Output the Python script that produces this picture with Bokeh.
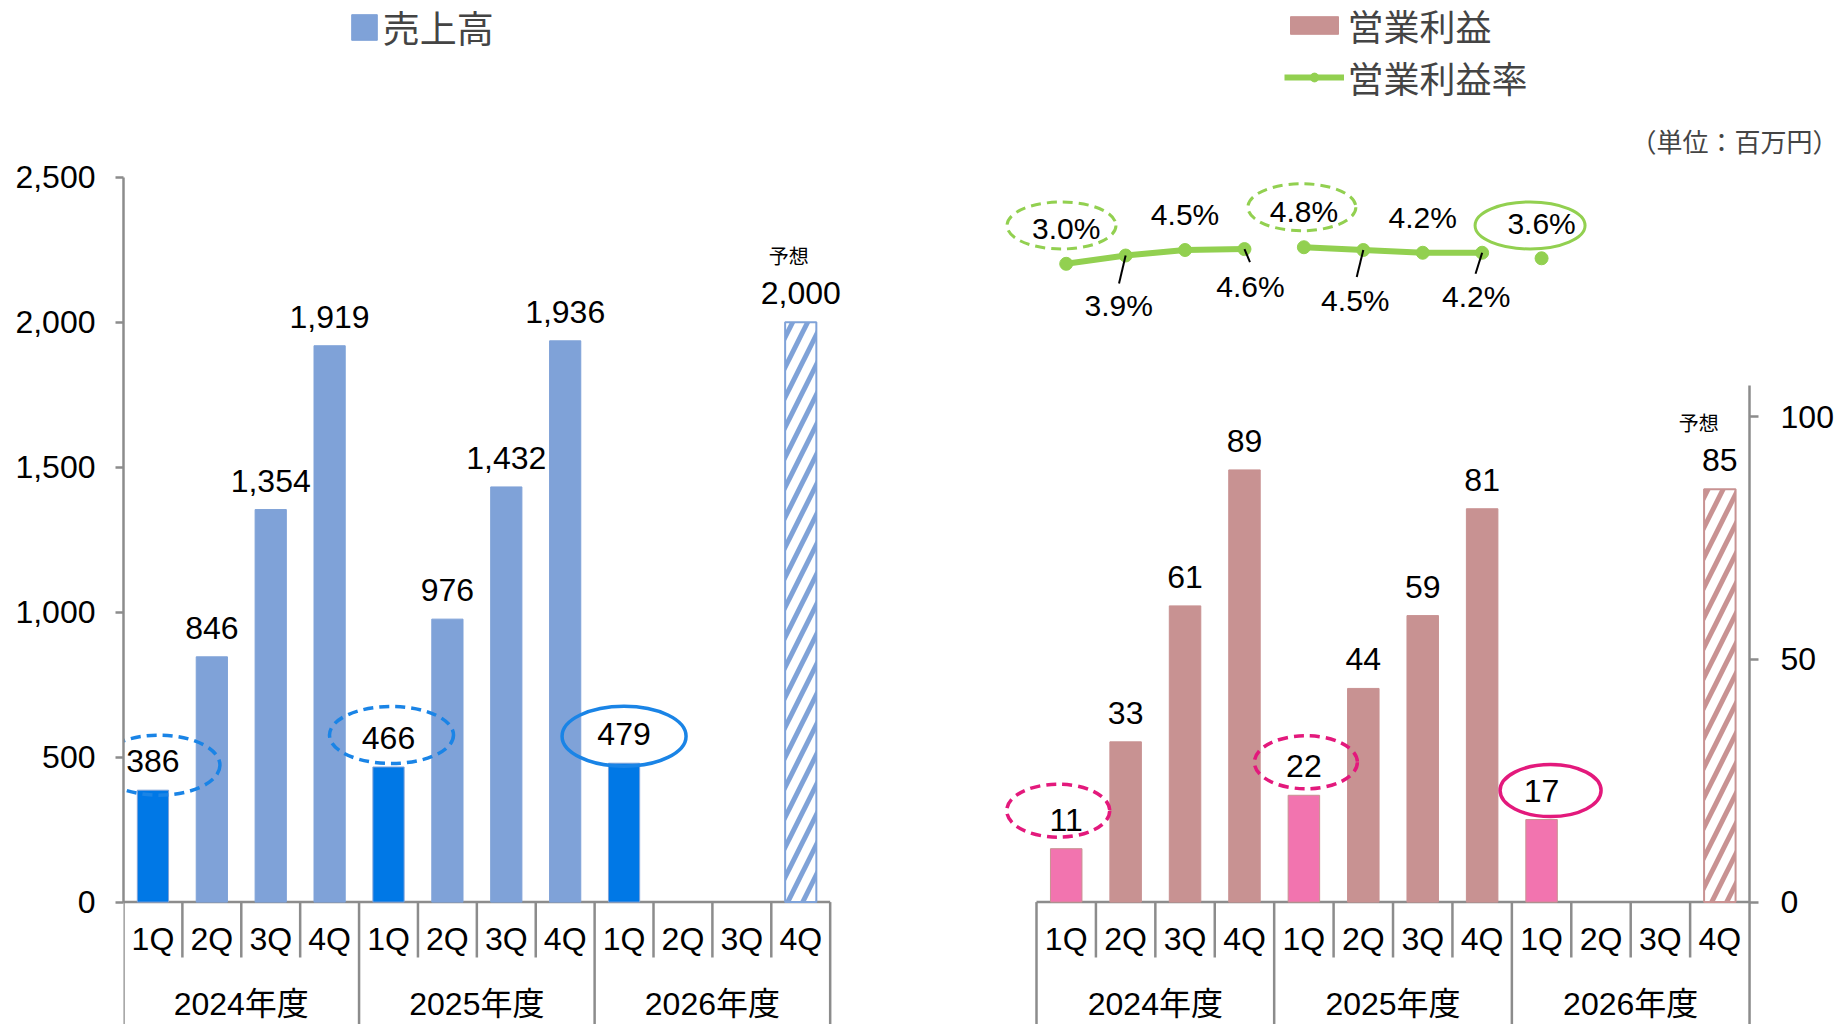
from bokeh.plotting import figure
from bokeh.models import Range1d, FixedTicker, NumeralTickFormatter, Legend, LegendItem, Label
from bokeh.layouts import row
from bokeh.embed import file_html
from bokeh.resources import INLINE
from bokeh.core.properties import value

# ---------------- data ----------------
years = ["2024年度", "2025年度", "2026年度"]
quarters = ["1Q", "2Q", "3Q", "4Q"]
sales = [386, 846, 1354, 1919, 466, 976, 1432, 1936, 479, None, None, None]
sales_forecast = [None, None, None, None, None, None, None, None, None, None, None, 2000]
op_profit = [11, 33, 61, 89, 22, 44, 59, 81, 17, None, None, None]
op_profit_forecast = [None, None, None, None, None, None, None, None, None, None, None, 85]
op_margin = [3.0, 3.9, 4.5, 4.6, 4.8, 4.5, 4.2, 4.2, 3.6, None, None, None]
sales_ticks = [0, 500, 1000, 1500, 2000, 2500]
profit_ticks = [0, 50, 100]
highlight_quarter = "1Q"
legend_sales = "売上高"
legend_profit = "営業利益"
legend_margin = "営業利益率"
forecast_note = "予想"
unit_note = "（単位：百万円）"

# ---------------- layout / style ----------------
H = 1024
W_L, W_R = 924, 924
L_BORDER = 123
BASE = 901.6             # px row of the zero line
LX, LY = 58.89, 0.28992  # left: px per category, px per unit
RX, RY = 59.42, 4.856    # right: px per category, px per unit
R_X0 = 112               # right: px from figure left to first category
RP, P_REF, P_REF_V = 9.2, 263.3, 3.0  # margin line: px per %, reference row/value

NUM_FONT = "Liberation Sans"
JP_FONT = "Noto Sans CJK JP"
MIX_FONT = "Liberation Sans, Noto Sans CJK JP"
GRAY = "#8C8C8C"
BLUE, BLUE_HI, BLUE_RING = "#7FA2D8", "#0078E6", "#1A84E6"
ROSE, PINK, PINK_RING = "#C89292", "#F274AF", "#E3197C"
GREEN = "#92D050"
BAR_W = 0.53
LBL_DY = -29
NUM_SIZE = "32px"

cats = [(y, q) for y in years for q in quarters]
N = len(cats)
xc = [i + 0.5 for i in range(N)]
hi = [q == highlight_quarter for (_, q) in cats]
latest_year = max(i // 4 for i in range(N) if sales[i] is not None)

# label / ring offsets (screen px: dx, dy, ring width, ring height)
left_ring = {0: (6, -25, 122, 60), 4: (3, -32, 124, 57), 8: (0, -27, 124, 60)}
right_ring = {0: (-8, -38, 103, 53), 4: (2, -33, 103, 53), 8: (9, -29, 101, 52)}
pct_lbl = [(0, -35), (-7, 50), (0, -36), (6, 37), (0, -36), (-8, 50), (0, -35), (-6, 44), (0, -35)]
pct_lead = {1: (-6.6, 28), 3: (5.5, 13), 5: (-6.6, 27), 7: (-6.6, 21)}
pct_ring = {0: (-4.7, -38.3, 109, 47), 4: (-2, -40, 108, 47), 8: (-11.5, -32.8, 110, 47)}


def base_fig(width, xr, yr, **kw):
    p = figure(width=width, height=H, x_range=xr, y_range=yr, output_backend="svg",
               toolbar_location=None, x_axis_location=None, min_border_top=0,
               min_border_bottom=0, **kw)
    p.outline_line_color = None
    p.grid.visible = False
    p.background_fill_color = None
    p.border_fill_color = None
    return p


def style_axis(ax, ticks, bounds, tick_out, standoff):
    ax.ticker = FixedTicker(ticks=ticks)
    ax.bounds = bounds
    ax.formatter = NumeralTickFormatter(format="0,0")
    ax.axis_line_color = GRAY
    ax.axis_line_width = 2.5
    ax.major_tick_line_color = GRAY
    ax.major_tick_line_width = 2.5
    ax.major_tick_out = tick_out
    ax.major_tick_in = 0
    ax.minor_tick_line_color = None
    ax.major_label_text_font = NUM_FONT
    ax.major_label_text_font_size = NUM_SIZE
    ax.major_label_text_color = "black"
    ax.major_label_standoff = standoff


def draw_table(p, to_y):
    p.segment(x0=[0], y0=[0], x1=[N], y1=[0], line_color=GRAY, line_width=2.5)
    bx = list(range(N + 1))
    y_end = [to_y(H + 5) if k % 4 == 0 else to_y(957) for k in bx]
    p.segment(x0=bx, y0=[0] * len(bx), x1=bx, y1=y_end, line_color=GRAY, line_width=2.5)
    p.text(x=xc, y=[to_y(938)] * N, text=[q for (_, q) in cats], text_font=value(NUM_FONT),
           text_font_size=NUM_SIZE, text_align="center", text_baseline="middle")
    p.text(x=[g * 4 + 2 for g in range(len(years))], y=[to_y(1003)] * len(years), text=years,
           text_font=value(MIX_FONT), text_font_size=NUM_SIZE, text_align="center",
           text_baseline="middle")


def draw_bars(p, vals, fvals, base_c, hi_c, sx, sy):
    idx = [i for i in range(N) if vals[i] is not None]
    r = p.vbar(x=[xc[i] for i in idx], top=[vals[i] for i in idx], width=BAR_W,
               fill_color=[hi_c if hi[i] else base_c for i in idx],
               line_color=base_c, line_width=1)
    fidx = [i for i in range(N) if fvals[i] is not None]
    p.vbar(x=[xc[i] for i in fidx], top=[fvals[i] for i in fidx], width=BAR_W,
           fill_color="white", line_color=base_c, line_width=2, hatch_pattern="/",
           hatch_color=base_c, hatch_weight=5, hatch_scale=30)
    allv = [vals[i] for i in idx] + [fvals[i] for i in fidx]
    p.text(x=[xc[i] for i in idx + fidx], y=allv, text=[f"{v:,}" for v in allv],
           text_font=value(NUM_FONT), text_font_size=NUM_SIZE, text_align="center",
           text_baseline="middle", y_offset=LBL_DY)
    p.text(x=[xc[i] for i in fidx], y=[fvals[i] for i in fidx], text=[forecast_note] * len(fidx),
           text_font=value(JP_FONT), text_font_size="20px", text_align="center",
           text_baseline="middle", x_offset=sx, y_offset=sy)
    return r


def draw_rings(p, vals, rings, sx, sy, color, lw, **kw):
    for dash in ("10 6", "solid"):
        ri = [i for i in range(N) if hi[i] and vals[i] is not None and i in rings
              and ((i // 4 == latest_year) == (dash == "solid"))]
        if not ri:
            continue
        p.ellipse(x=[xc[i] + rings[i][0] / sx for i in ri],
                  y=[vals[i] - rings[i][1] / sy for i in ri],
                  width=[rings[i][2] for i in ri], height=[rings[i][3] for i in ri],
                  width_units="screen", height_units="screen", fill_color=None,
                  line_color=color, line_width=lw, line_dash=dash, **kw)


# ---------------- left: 売上高 ----------------
fw_l = W_L - L_BORDER
p1 = base_fig(W_L, Range1d(0, fw_l / LX), Range1d((BASE - H) / LY, BASE / LY),
              min_border_left=L_BORDER, min_border_right=0, y_axis_location="left")
style_axis(p1.yaxis[0], sales_ticks, (0, 2500), 8, 20)
to_y_l = lambda py: (BASE - py) / LY
draw_table(p1, to_y_l)
r_sales = draw_bars(p1, sales, sales_forecast, BLUE, BLUE_HI, -12, -67)
draw_rings(p1, sales, left_ring, LX, LY, BLUE_RING, 3.5)

leg1 = Legend(items=[LegendItem(label=legend_sales, renderers=[r_sales], index=1)],
              location=(224.8, 970.5), border_line_color=None, background_fill_alpha=0,
              label_text_font=JP_FONT, label_text_font_size="37px", glyph_width=32,
              glyph_height=32, label_height=44, label_standoff=3, padding=0, margin=0)
p1.add_layout(leg1)

# ---------------- right: 営業利益 / 営業利益率 ----------------
x0_r = -R_X0 / RX
p2 = base_fig(W_R, Range1d(x0_r, x0_r + W_R / RX), Range1d((BASE - H) / RY, BASE / RY),
              min_border_left=0, min_border_right=0, y_axis_location="right")
style_axis(p2.yaxis[0], profit_ticks, (0, 106.3), 9, 22)
p2.yaxis[0].fixed_location = N
p2.extra_y_ranges = {"pct": Range1d(P_REF_V - (H - P_REF) / RP, P_REF_V + P_REF / RP)}
to_y_r = lambda py: (BASE - py) / RY
draw_table(p2, to_y_r)
r_op = draw_bars(p2, op_profit, op_profit_forecast, ROSE, PINK, -21, -67)
draw_rings(p2, op_profit, right_ring, RX, RY, PINK_RING, 3.5)

# margin line, broken per fiscal year
line_rs = []
for g in range(len(years)):
    gi = [i for i in range(N) if op_margin[i] is not None and i // 4 == g]
    if len(gi) > 1:
        line_rs.append(p2.line(x=[xc[i] for i in gi], y=[op_margin[i] for i in gi],
                               y_range_name="pct", line_color=GREEN, line_width=6))
mi = [i for i in range(N) if op_margin[i] is not None]
r_pts = p2.scatter(x=[xc[i] for i in mi], y=[op_margin[i] for i in mi], y_range_name="pct",
                   size=13, fill_color=GREEN, line_color=GREEN)
li = [i for i in mi if i in pct_lead]
p2.segment(x0=[xc[i] for i in li], y0=[op_margin[i] for i in li],
           x1=[xc[i] + pct_lead[i][0] / RX for i in li],
           y1=[op_margin[i] - pct_lead[i][1] / RP for i in li],
           y_range_name="pct", line_color="black", line_width=2)
p2.text(x=[xc[i] + pct_lbl[i][0] / RX for i in mi],
        y=[op_margin[i] - pct_lbl[i][1] / RP for i in mi],
        text=[f"{op_margin[i]:.1f}%" for i in mi], y_range_name="pct",
        text_font=value(NUM_FONT), text_font_size="30px", text_align="center",
        text_baseline="middle")
draw_rings(p2, op_margin, pct_ring, RX, RP, GREEN, 3, y_range_name="pct")

leg2 = Legend(items=[LegendItem(label=legend_profit, renderers=[r_op], index=1),
                     LegendItem(label=legend_margin, renderers=line_rs[:1] + [r_pts])],
              location=(359.5, 921), border_line_color=None, background_fill_alpha=0,
              label_text_font=JP_FONT, label_text_font_size="36px", glyph_width=60,
              glyph_height=22, label_height=40, label_standoff=4, padding=0, margin=0,
              spacing=0)
p2.add_layout(leg2)

p2.add_layout(Label(x=(1630 - 924 - R_X0) / RX, y=to_y_r(140), text=unit_note, text_font=JP_FONT,
                    text_font_size="26px", text_baseline="middle", text_align="left"))

layout = row(p1, p2)
open("out.html", "w").write(file_html(layout, INLINE))
